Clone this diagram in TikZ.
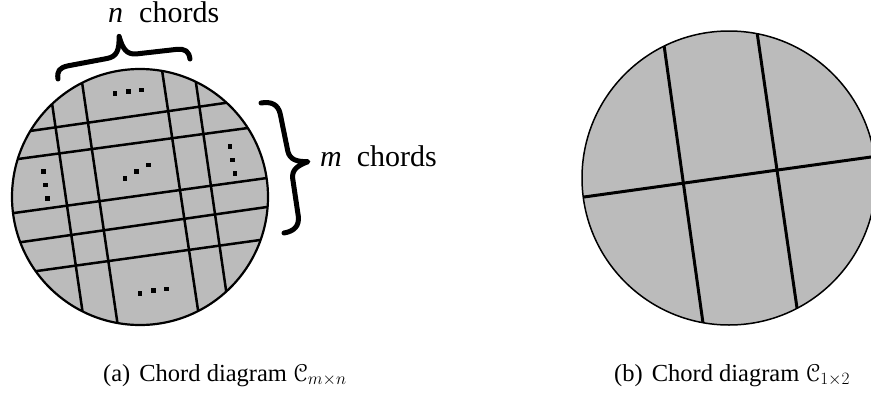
\documentclass[tikz,border=0pt]{standalone}
\usepackage{eucal}
\usepackage{fontspec}
\setmainfont{Liberation Serif}
\definecolor{diskgray}{RGB}{187,187,187}
\begin{document}
\begin{tikzpicture}[x=1pt,y=-1pt,
  disk/.style={fill=diskgray},
  rim/.style={draw=black,line width=#1},
  chord/.style={draw=black,line width=#1,shorten <=-12pt,shorten >=-12pt},
  bracestroke/.style={draw=black,line width=5pt,line cap=round,line join=round},
  lbl/.style={inner sep=0pt,anchor=base west,font=\fontsize{30}{34}\selectfont},
  captext/.style={inner sep=0pt,anchor=base west,font=\fontsize{24.5}{28}\selectfont},
  dotsq/.style={fill=black}]
\useasboundingbox (0,0) rectangle (871,394);

% ---------- left disk ----------
\coordinate (cL) at (140,197);
\fill[disk] (cL) circle[radius=128];
\begin{scope}
  \clip (cL) circle[radius=128];
  \draw[chord=2.5pt] (52,103) -- (82,308);
  \draw[chord=2.5pt] (82,82) -- (117,320);
  \draw[chord=2.5pt] (162,70) -- (198,310);
  \draw[chord=2.5pt] (196,83) -- (226,290);
  \draw[chord=2.5pt] (30,131) -- (225,103);
  \draw[chord=2.5pt] (18,159) -- (248,128);
  \draw[chord=2.5pt] (14,213) -- (267,178);
  \draw[chord=2.5pt] (22,242) -- (267,207);
  \draw[chord=2.5pt] (37,271) -- (260,240);
\end{scope}
\draw[rim=2.2pt] (cL) circle[radius=128];

% dots
\foreach \p in {(115,93.3),(128.3,91.7),(141.7,90),
                (43.3,171.7),(45.7,185),(47.7,198.3),
                (230,146.7),(232.7,160),(235,173.3),
                (125,178.3),(136.7,171.7),(148.3,165),
                (140,293.3),(153.3,290.7),(166.7,289)}
  \fill[dotsq,shift={\p}] (-2.3,-2.3) rectangle (2.3,2.3);

% top brace
\draw[bracestroke] (58,79) .. controls (56.8,71.1) and (59.3,67.7) .. (68.1,65.8)
  -- (107.5,58.4) .. controls (117.3,56.4) and (119.3,49.5) .. (119.1,36.4)
  .. controls (122.7,49.0) and (126.7,54.9) .. (136.6,53.9)
  -- (176.4,49.4) .. controls (185.4,48.6) and (188.8,51.1) .. (190,59);

% right brace
\draw[bracestroke] (261,103) .. controls (270.8,101.3) and (278.0,104.1) .. (280.2,113.8)
  -- (287.8,151.1) .. controls (289.9,159.9) and (296.8,161.7) .. (307.9,161.7)
  .. controls (297.5,165.6) and (291.6,169.7) .. (292.7,178.6)
  -- (298.3,216.2) .. controls (299.5,226.2) and (293.8,231.3) .. (284,233);

\node[lbl] (nlab) at (108,22) {\textit{n}\hspace{16pt}chords};
\node[lbl] (mlab) at (320,166) {\textit{m}\hspace{15pt}chords};

\node[captext] (capa) at (103,381) {(a)\hspace{9pt}Chord diagram $\mathcal{C}_{m\times n}$};

% ---------- right disk ----------
\coordinate (cR) at (729,178);
\fill[disk] (cR) circle[radius=147];
\begin{scope}
  \clip (cR) circle[radius=147];
  \draw[chord=3pt] (584,197) -- (871,157);
  \draw[chord=3pt] (664,45) -- (703,323);
  \draw[chord=3pt] (757,32) -- (797,308);
\end{scope}
\draw[rim=1.5pt] (cR) circle[radius=147];

\node[captext] (capb) at (614,381) {(b)\hspace{9pt}Chord diagram $\mathcal{C}_{1\times 2}$};
\end{tikzpicture}
\end{document}
